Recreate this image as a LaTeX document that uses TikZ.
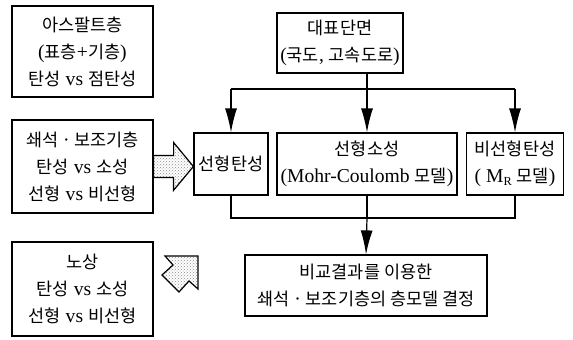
\documentclass[tikz,border=0pt]{standalone}
\usepackage{fontspec}
\setmainfont{Liberation Serif}[Scale=1.12]
\newfontfamily\kr{Noto Sans CJK KR}
\usetikzlibrary{arrows.meta,positioning,calc,patterns}

\tikzset{
  box/.style={draw, line width=1.2pt, align=center, inner sep=0pt,
    font=\fontsize{17.5}{27}\selectfont},
  flow/.style={-{Latex[length=24pt,width=12pt]}},
  fatarrow/.style={draw, line width=1.2pt, pattern=crosshatch dots, pattern color=gray!90}
}

\begin{document}
\begin{tikzpicture}[x=1pt, y=-1pt, line width=1.2pt]
    \useasboundingbox (0,0) rectangle (573,340);

    % left column: layers
    \node[box, minimum width=141pt, minimum height=91pt] (asphalt) at (82.5,51.5)
        {{\kr 아스팔트층}\\({\kr 표층}+{\kr 기층})\\{\kr 탄성} vs {\kr 점탄성}};
    \node[box, minimum width=141pt, minimum height=93pt] (base) at (82.5,166.5)
        {{\kr 쇄석} · {\kr 보조기층}\\{\kr 탄성} vs {\kr 소성}\\{\kr 선형} vs {\kr 비선형}};
    \node[box, minimum width=141pt, minimum height=94pt] (subgrade) at (82.5,289)
        {{\kr 노상}\\{\kr 탄성} vs {\kr 소성}\\{\kr 선형} vs {\kr 비선형}};

    % models
    \node[box, minimum width=126pt, minimum height=60pt] (section) at (340,43)
        {{\kr 대표단면}\\({\kr 국도}, {\kr 고속도로})};
    \node[box, minimum width=74pt, minimum height=62pt] (elastic) at (231,164)
        {\kr 선형탄성};
    \node[box, minimum width=180pt, minimum height=62pt] (plastic) at (367,164)
        {{\kr 선형소성}\\(Mohr-Coulomb {\kr 모델})};
    \node[box, minimum width=97pt, minimum height=62pt] (nonlin) at (515,164)
        {{\kr 비선형탄성}\\( M\raisebox{-0.35ex}{\fontsize{11}{11}\selectfont R} {\kr 모델})};
    \node[box, minimum width=242pt, minimum height=61pt] (result) at (366,285.5)
        {{\kr 비교결과를 이용한}\\{\kr 쇄석} · {\kr 보조기층의 층모델 결정}};

    \coordinate (split) at (367,89);
    \coordinate (merge) at (367,218);

    % branch down
    \draw (section.south -| split) -- (split);
    \draw (split -| elastic) -- (split -| nonlin);
    \draw[flow] (split -| elastic) -- (elastic.north);
    \draw[flow] (split) -- (plastic.north);
    \draw[flow] (split -| nonlin) -- (nonlin.north);

    % merge
    \draw (elastic.south) -- (elastic.south |- merge) -- (nonlin.south |- merge) -- (nonlin.south);
    \draw (plastic.south) -- (merge);
    \draw[flow] (merge) -- (result.north);

    % fat arrows
    \draw[fatarrow] ($(base.east)+(0,-11)$) -- ++(20,0) -- ++(0,-13)
        -- (elastic.west |- base.east) -- ++(-20,24) -- ++(0,-13)
        -- ($(base.east)+(0,11)$) -- cycle;
    \draw[fatarrow] (198,256) -- (165,256) -- (173,265) -- (162,275)
        -- (179,292) -- (189,281) -- (198,289) -- cycle;
\end{tikzpicture}
\end{document}
